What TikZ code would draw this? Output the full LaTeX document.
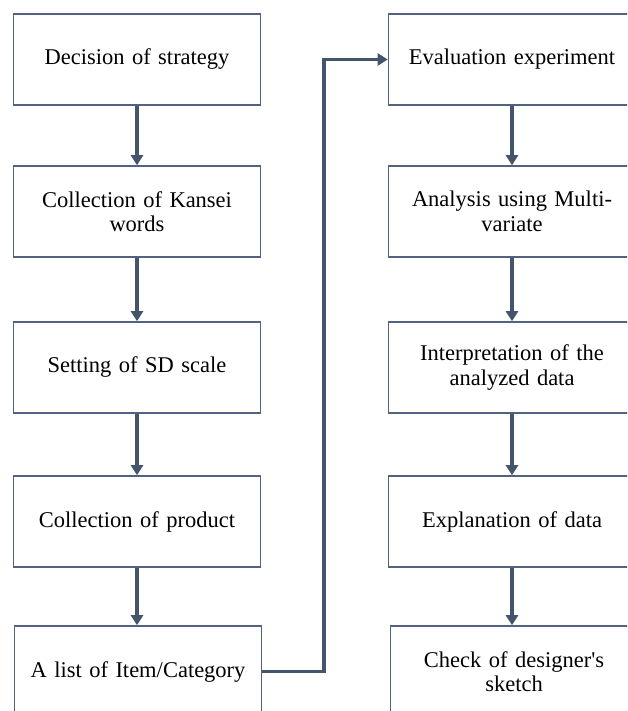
\documentclass[tikz,border=0pt]{standalone}
\usepackage{fontspec}
\setmainfont{Liberation Serif}[Ligatures=TeXOff]
\usetikzlibrary{arrows.meta}
\definecolor{boxline}{HTML}{52627F}
\definecolor{flowline}{HTML}{44546A}
\begin{document}
\begin{tikzpicture}[x=1pt,y=1pt,
  stepbox/.style={draw=boxline, line width=1.6pt, fill=white, rectangle,
    minimum width=247pt, minimum height=91pt, text width=225pt, align=center,
    inner sep=0pt, font=\fontsize{22.5}{24.5}\selectfont},
  flow/.style={draw=flowline, line width=3.4pt,
    -{Triangle[length=10pt,width=12pt]}, shorten >=0pt}]
\useasboundingbox (0,0) rectangle (627,-711);
\clip (0,0) rectangle (627,-711);

% left column
\node[stepbox] (d1) at (137,-59.5) {Decision of strategy};
\node[stepbox] (d2) at (137,-211.5) {Collection of Kansei\\words};
\node[stepbox] (d3) at (137,-367.5) {Setting of SD scale};
\node[stepbox] (d4) at (137,-521.5) {Collection of product};
\node[stepbox] (d5) at (138,-671.5) {A list of Item/Category};

% right column
\node[stepbox] (e1) at (512,-59.5) {Evaluation experiment};
\node[stepbox] (e2) at (512,-211.5) {Analysis using Multi-\\variate};
\node[stepbox] (e3) at (512,-367.5) {Interpretation of the\\analyzed data};
\node[stepbox] (e4) at (512,-521.5) {Explanation of data};
\node[stepbox] (e5) at (514,-671.5) {Check of designer's\\sketch};

% vertical flow
\draw[flow] (d1.south) -- (d2.north);
\draw[flow] (d2.south) -- (d3.north);
\draw[flow] (d3.south) -- (d4.north);
\draw[flow] (d4.south) -- (d4.south |- d5.north);
\draw[flow] (e1.south) -- (e2.north);
\draw[flow] (e2.south) -- (e3.north);
\draw[flow] (e3.south) -- (e4.north);
\draw[flow] (e4.south) -- (e4.south |- e5.north);

% link between the two columns
\coordinate (turn) at (324,0);
\draw[flow] (d5.east) -- (turn |- d5.east) -- (turn |- e1.west) -- (e1.west);
\end{tikzpicture}
\end{document}
